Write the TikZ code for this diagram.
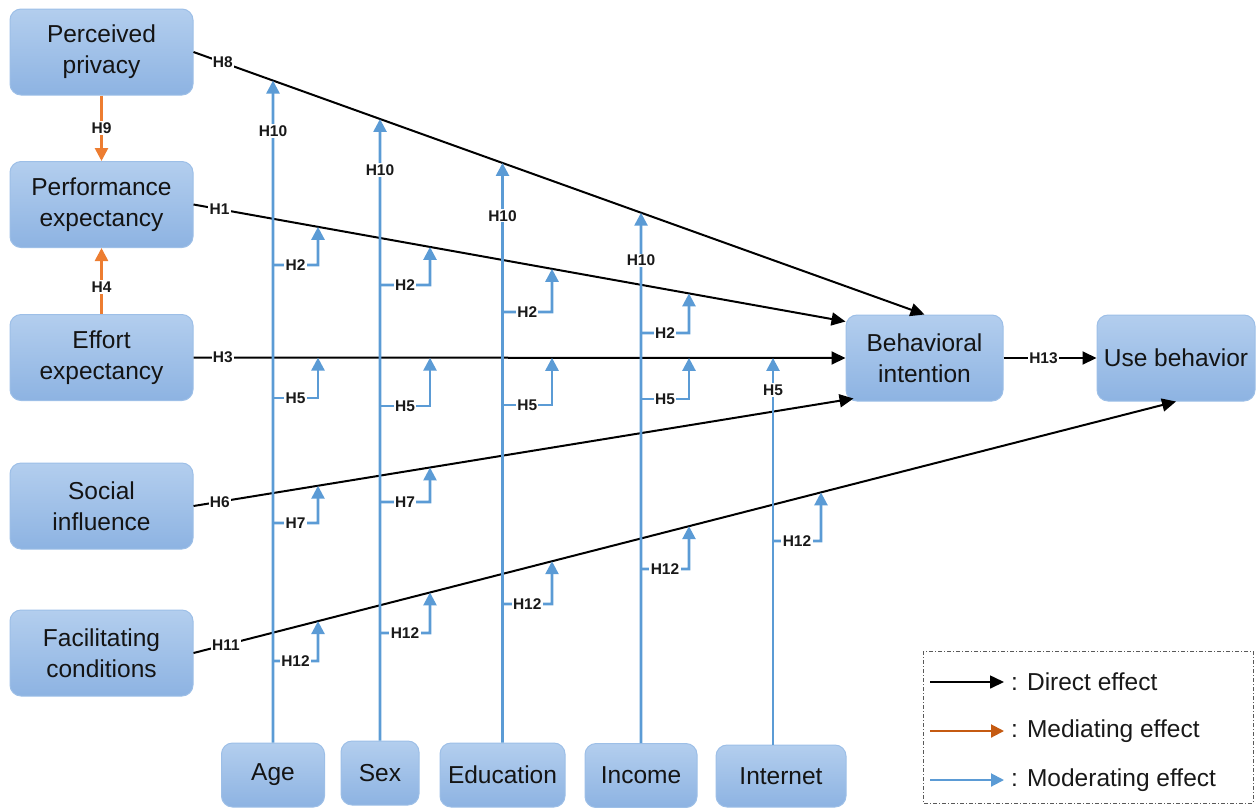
\documentclass[tikz,border=0pt]{standalone}
\usepackage{fontspec}
\setmainfont{Liberation Sans}
\usetikzlibrary{arrows.meta,calc}
\definecolor{boxtop}{HTML}{B3CEEE}
\definecolor{boxbot}{HTML}{8DB3E2}
\definecolor{boxedge}{HTML}{9DBFE7}
\definecolor{modblue}{HTML}{5B9BD5}
\definecolor{medorange}{HTML}{ED7D31}
\definecolor{legorange}{HTML}{C55A11}
\newcommand\modbr[5]{\draw[mod] (#1,#2) -- node[lab]{#5} (#3,#2) -- (intersection of #3,0--#3,800 and #4s--#4e);}
\begin{document}
\begin{tikzpicture}[x=1pt,y=-1pt,
  box/.style={draw=boxedge, line width=1pt, rounded corners=11pt, top color=boxtop, bottom color=boxbot, align=center, font=\fontsize{24.5}{31}\selectfont, text=black!92, inner sep=0pt},
  lbox/.style={box, minimum width=183pt, minimum height=86pt},
  rbox/.style={box, minimum width=157pt, minimum height=86pt},
  dbox/.style={box, minimum height=64pt},
  direct/.style={draw=black, line width=2pt, -{Triangle[length=14pt,width=13pt]}},
  med/.style={draw=medorange, line width=2.6pt, -{Triangle[length=13pt,width=13pt]}},
  mod/.style={draw=modblue, line width=2.6pt, -{Triangle[length=13pt,width=13pt]}},
  lab/.style={fill=white, inner sep=1.3pt, font=\bfseries\fontsize{15.5}{15.5}\selectfont, text=black!90},
  legtext/.style={anchor=west, font=\fontsize{24.5}{31}\selectfont, text=black!90, inner sep=0pt},
  legframe/.style={draw=black!65, line width=0.9pt, dash pattern=on 4pt off 2pt on 1pt off 2pt}
]
\useasboundingbox (0,0) rectangle (1259,807);

% boxes
\node[lbox] (pp) at (101.5,52) {Perceived\\privacy};
\node[lbox] (pe) at (101.5,204.5) {Performance\\expectancy};
\node[lbox] (ee) at (101.5,357.5) {Effort\\expectancy};
\node[lbox] (si) at (101.5,506) {Social\\influence};
\node[lbox] (fc) at (101.5,653) {Facilitating\\conditions};
\node[rbox] (bi) at (924.5,358) {Behavioral\\intention};
\node[rbox, minimum width=158pt] (ub) at (1176,358) {Use behavior};
\node[dbox, minimum width=103pt] (age) at (273,775) {Age};
\node[dbox, minimum width=78pt] (sex) at (380,773) {Sex};
\node[dbox, minimum width=125pt] (edu) at (502.5,775) {Education};
\node[dbox, minimum width=112pt] (inc) at (641,775.5) {Income};
\node[dbox, minimum width=130pt, minimum height=62pt] (net) at (781,776) {Internet};

% line end coordinates
\coordinate (h8s) at (pp.east); \coordinate (h8e) at (bi.north);
\coordinate (h1s) at (pe.east); \coordinate (h1e) at ([yshift=-7pt]bi.north west);
\coordinate (h3s) at (ee.east); \coordinate (h3e) at (bi.west);
\coordinate (h6s) at (si.east); \coordinate (h6e) at ([xshift=8pt,yshift=3pt]bi.south west);
\coordinate (h11s) at (fc.east); \coordinate (h11e) at (ub.south);

% direct effects
\draw[direct] (pp.east) -- node[lab,pos=0.04]{H8} (h8e);
\draw[direct] (pe.east) -- node[lab,pos=0.04]{H1} (h1e);
\draw[direct] (ee.east) -- node[lab,pos=0.045]{H3} (bi.west);
\draw[direct] (si.east) -- node[lab,pos=0.04]{H6} (h6e);
\draw[direct] (fc.east) -- node[lab,pos=0.033]{H11} (ub.south);
\draw[direct] (bi.east) -- node[lab,pos=0.43]{H13} (ub.west);

% mediating effects
\draw[med] (pp.south) -- node[lab]{H9} (pe.north);
\draw[med] (ee.north) -- node[lab,pos=0.41]{H4} (pe.south);

% moderators: vertical lines
\draw[mod] (age.north) -- node[lab,pos=0.924]{H10} (intersection of 273,0--273,800 and h8s--h8e);
\draw[mod] (sex.north) -- node[lab,pos=0.918]{H10} (intersection of 380,0--380,800 and h8s--h8e);
\draw[mod] (edu.north) -- node[lab,pos=0.909]{H10} (intersection of 502.5,0--502.5,800 and h8s--h8e);
\draw[mod] (inc.north) -- node[lab,pos=0.91]{H10} (intersection of 641,0--641,800 and h8s--h8e);
\draw[mod] ([xshift=-8pt]net.north) -- node[lab,pos=0.917]{H5} (intersection of 773,0--773,800 and h3s--h3e);

% moderators: brackets
\modbr{273}{265}{318}{h1}{H2}
\modbr{273}{398}{318}{h3}{H5}
\modbr{273}{523}{318}{h6}{H7}
\modbr{273}{661}{318}{h11}{H12}
\modbr{380}{285}{430}{h1}{H2}
\modbr{380}{406}{430}{h3}{H5}
\modbr{380}{502}{430}{h6}{H7}
\modbr{380}{633}{430}{h11}{H12}
\modbr{502.5}{312}{552}{h1}{H2}
\modbr{502.5}{405}{552}{h3}{H5}
\modbr{502.5}{604}{552}{h11}{H12}
\modbr{641}{333}{689}{h1}{H2}
\modbr{641}{399}{689}{h3}{H5}
\modbr{641}{569}{689}{h11}{H12}
\modbr{773}{541}{821}{h11}{H12}

% legend
\draw[legframe] (923,651) rectangle (1253,803);
\node[legtext] (l1) at (1011,682) {: Direct effect};
\node[legtext] (l2) at (1011,731) {: Mediating effect};
\node[legtext] (l3) at (1011,780) {: Moderating effect};
\coordinate (l1s) at (930,682);
\coordinate (l2s) at (930,731);
\coordinate (l3s) at (930,780);
\draw[direct, line width=1.6pt] (l1s) -- ([xshift=-7pt]l1.west);
\draw[med, draw=legorange, line width=2pt] (l2s) -- ([xshift=-7pt]l2.west);
\draw[mod, line width=2pt] (l3s) -- ([xshift=-7pt]l3.west);
\end{tikzpicture}
\end{document}
